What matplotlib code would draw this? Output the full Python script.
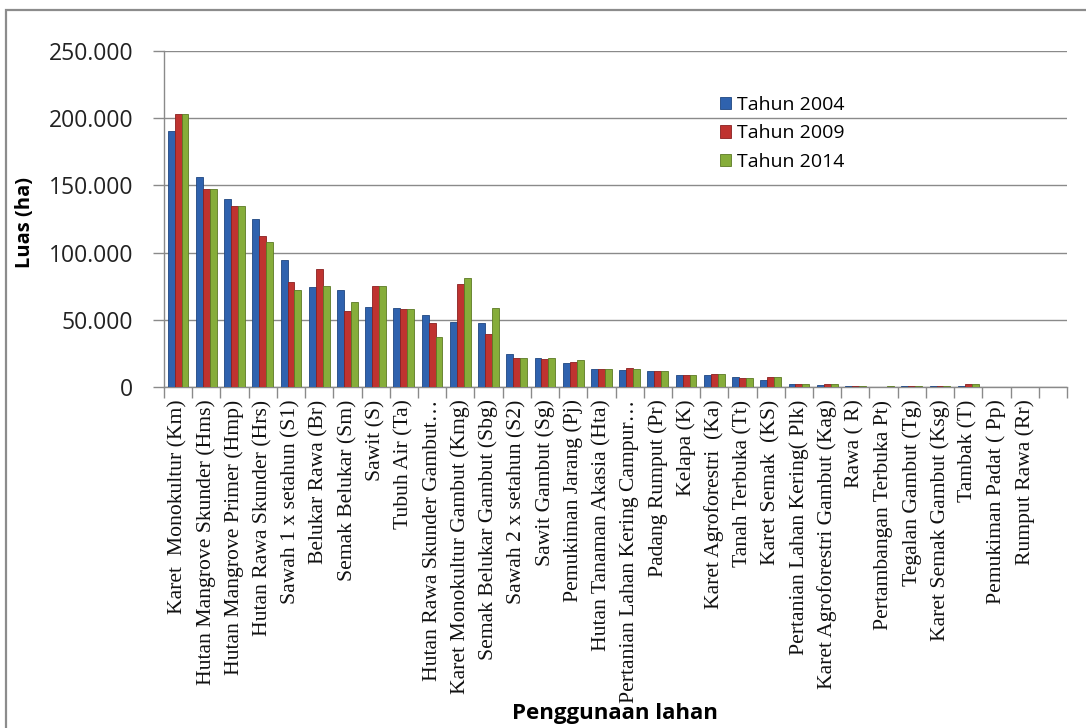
import numpy as np
import matplotlib.pyplot as plt
from matplotlib.patches import Rectangle
from matplotlib.ticker import FuncFormatter, FixedLocator

# land use categories (last slot is empty in the original chart)
categories = [
    "Karet  Monokultur (Km)", "Hutan Mangrove Skunder (Hms)", "Hutan Mangrove Primer (Hmp)",
    "Hutan Rawa Skunder (Hrs)", "Sawah 1 x setahun (S1)", "Belukar Rawa (Br)",
    "Semak Belukar (Sm)", "Sawit (S)", "Tubuh Air (Ta)", "Hutan Rawa Skunder Gambut\u2026",
    "Karet Monokultur Gambut (Kmg)", "Semak Belukar Gambut (Sbg)", "Sawah 2 x setahun (S2)",
    "Sawit Gambut (Sg)", "Pemukiman Jarang (Pj)", "Hutan Tanaman Akasia (Hta)",
    "Pertanian Lahan Kering Campur\u2026", "Padang Rumput (Pr)", "Kelapa (K)",
    "Karet Agroforestri  (Ka)", "Tanah Terbuka (Tt)", "Karet Semak  (KS)",
    "Pertanian Lahan Kering( Plk)", "Karet Agroforestri Gambut (Kag)", "Rawa ( R)",
    "Pertambangan Terbuka Pt)", "Tegalan Gambut (Tg)", "Karet Semak Gambut (Ksg)",
    "Tambak (T)", "Pemukiman Padat ( Pp)", "Rumput Rawa (Rr)", "",
]

tahun_2004 = [190800, 156000, 139600, 125200, 94400, 74300, 72000, 59600, 58600, 53400,
              48400, 47700, 24900, 21900, 17900, 13700, 13000, 11700, 8700, 8700,
              7500, 5500, 2500, 1500, 400, 300, 500, 500, 800, 200, 100, 0]
tahun_2009 = [203200, 147500, 134600, 112300, 78200, 87500, 56600, 75000, 57900, 47700,
              76500, 39300, 21900, 21200, 18900, 13700, 13900, 11700, 8700, 9700,
              6500, 7700, 2500, 2500, 500, 300, 1000, 600, 2500, 200, 100, 0]
tahun_2014 = [203200, 147500, 134600, 107800, 72000, 75000, 62900, 75000, 57700, 37300,
              81200, 58900, 21900, 21900, 20100, 13700, 13700, 11700, 8700, 9400,
              6500, 7500, 2500, 2300, 500, 500, 800, 900, 2300, 200, 100, 0]

series = [("Tahun 2004", tahun_2004, "#2f62ae", "#1f4680"),
          ("Tahun 2009", tahun_2009, "#bf3330", "#8a2020"),
          ("Tahun 2014", tahun_2014, "#86ad3a", "#5c7a24")]

fig = plt.figure(figsize=(10.86, 7.28), dpi=100)
ax = fig.add_axes([164 / 1086, 1 - 387 / 728, (1067 - 164) / 1086, (387 - 51) / 728])

# outer chart border (only left and top edges fall inside the image)
fig.patches.append(Rectangle((6 / 1086, -0.05), 1.2, 1 - 10 / 728 + 0.05,
                             transform=fig.transFigure, fill=False,
                             edgecolor="#8c8c8c", linewidth=1.6))

x = np.arange(len(categories))
w = 0.245
for i, (name, vals, col, edge) in enumerate(series):
    ax.bar(x + (i - 1) * w, vals, w, color=col, edgecolor=edge, linewidth=0.6,
           label=name, zorder=3)

ax.set_xlim(-0.5, len(categories) - 0.5)
ax.set_ylim(0, 250000)
ax.set_yticks(np.arange(0, 250001, 50000))
ax.yaxis.set_major_formatter(FuncFormatter(lambda v, p: "0" if v == 0 else f"{int(v):,}".replace(",", ".")))
ax.grid(axis="y", color="#8a8a8a", linewidth=1.0, zorder=0)

ax.set_xticks(x)
ax.set_xticklabels(categories, rotation=90, fontfamily="Liberation Serif", fontsize=15.6, color="#111111")
ax.xaxis.set_minor_locator(FixedLocator(np.arange(-0.5, len(categories), 1.0)))
ax.tick_params(axis="x", which="major", length=0, pad=9)
ax.tick_params(axis="x", which="minor", length=8, color="#8a8a8a", width=1.0)
ax.tick_params(axis="y", length=8, color="#8a8a8a", width=1.0, pad=14)
for lab in ax.get_yticklabels():
    lab.set_fontfamily("Open Sans")
    lab.set_fontsize(16.5)
    lab.set_color("#222222")

for s in ["top", "right"]:
    ax.spines[s].set_visible(False)
for s in ["left", "bottom"]:
    ax.spines[s].set_color("#8a8a8a")
    ax.spines[s].set_linewidth(1.0)

fig.text(25 / 1086, 1 - 222 / 728, "Luas (ha)", rotation=90, ha="center", va="center",
         fontfamily="Open Sans", fontweight="bold", fontsize=14.5)
fig.text(615 / 1086, 1 - 714 / 728, "Penggunaan lahan", ha="center", va="center",
         fontfamily="Open Sans", fontweight="bold", fontsize=16)

leg = ax.legend(loc="upper left", bbox_to_anchor=((712 - 164) / 903, 1 - (88 - 51) / 336),
                frameon=False, handlelength=0.6, handleheight=0.6, handletextpad=0.3,
                labelspacing=0.55, borderaxespad=0,
                prop={"family": "Open Sans", "size": 14})

plt.savefig("out.png")
